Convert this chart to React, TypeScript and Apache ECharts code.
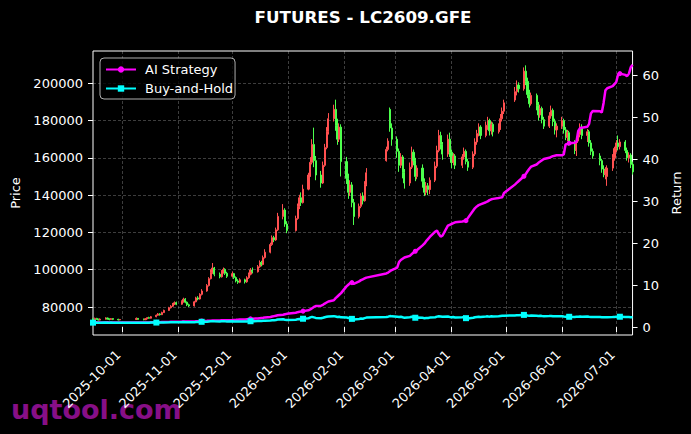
import React, { useEffect, useRef } from "react";
import * as echarts from "echarts";

// Trading days per month
const sepDays = [15, 16, 17, 18, 19, 22, 23, 24, 25, 26, 29, 30];
const octDays = [9, 10, 13, 14, 15, 16, 17, 20, 21, 22, 23, 24, 27, 28, 29, 30, 31];
const novDays = [3, 4, 5, 6, 7, 10, 11, 12, 13, 14, 17, 18, 19, 20, 21, 24, 25, 26, 27, 28];
const decDays = [1, 2, 3, 4, 5, 8, 9, 10, 11, 12, 15, 16, 17, 18, 19, 22, 23, 24, 25, 26, 29, 30, 31];
const janDays = [5, 6, 7, 8, 9, 12, 13, 14, 15, 16, 19, 20, 21, 22, 23, 26, 27, 28, 29, 30];
const febDays = [2, 3, 4, 5, 6, 9, 10, 11, 12, 13, 24, 25, 26, 27];
const marDays = [2, 3, 4, 5, 6, 9, 10, 11, 12, 13, 16, 17, 18, 19, 20, 23, 24, 25, 26, 27, 30, 31];
const aprDays = [1, 2, 3, 7, 8, 9, 10, 13, 14, 15, 16, 17, 20, 21, 22, 23, 24, 27, 28, 29, 30];
const mayDays = [6, 7, 8, 11, 12, 13, 14, 15, 18, 19, 20, 21, 22, 25, 26, 27, 28, 29];
const junDays = [1, 2, 3, 4, 5, 8, 9, 10, 11, 12, 15, 16, 17, 18, 22, 23, 24, 25, 26, 29, 30];
const julDays = [1, 2, 3, 6, 7, 8, 9, 10];

// OHLC in thousands: [open, close, low, high]
const sepOHLC = [
  [73.6, 73.2, 72.8, 74.0], [73.2, 73.9, 73.0, 74.3], [73.9, 73.4, 73.1, 74.2], [73.4, 73.0, 72.7, 73.8],
  [73.0, 73.5, 72.8, 73.9], [73.5, 74.1, 73.3, 74.5], [74.1, 73.6, 73.3, 74.3], [73.6, 73.3, 72.9, 73.9],
  [73.3, 73.8, 73.1, 74.1], [73.8, 73.4, 73.0, 74.0], [73.4, 73.1, 72.8, 73.7], [73.1, 73.3, 72.9, 73.6],
];
const octOHLC = [
  [73.3, 73.9, 73.1, 74.4], [73.9, 73.5, 73.2, 74.1], [73.5, 73.2, 72.9, 73.8], [73.2, 73.7, 73.0, 74.0],
  [73.7, 74.3, 73.5, 74.6], [74.3, 74.0, 73.7, 74.8], [74.0, 74.8, 73.8, 75.2], [74.8, 75.6, 74.5, 76.0],
  [75.6, 76.3, 75.3, 76.8], [76.3, 75.9, 75.4, 76.7], [75.9, 77.0, 75.7, 77.5], [77.0, 78.2, 76.8, 78.6],
  [78.2, 79.6, 78.0, 80.1], [79.6, 80.4, 79.2, 81.0], [80.4, 81.6, 80.0, 82.2], [81.6, 82.3, 81.1, 83.0],
  [82.3, 81.5, 81.0, 82.9],
];
const novOHLC = [
  [81.5, 82.8, 81.2, 83.6], [82.8, 84.2, 82.4, 85.0], [84.2, 82.6, 82.0, 84.8], [82.6, 81.2, 80.5, 83.0],
  [81.2, 80.6, 80.0, 81.8], [80.6, 82.8, 80.3, 83.3], [82.8, 84.9, 82.5, 85.5], [84.9, 84.3, 83.6, 85.8],
  [84.3, 86.8, 84.0, 87.4], [86.8, 88.6, 86.2, 89.6], [88.6, 91.5, 88.2, 92.3], [91.5, 95.2, 91.0, 96.0],
  [95.2, 98.6, 94.8, 100.2], [98.6, 100.9, 97.8, 103.6], [100.9, 97.6, 96.5, 101.5], [97.6, 96.2, 95.4, 98.5],
  [96.2, 98.8, 95.8, 99.8], [98.8, 100.2, 97.9, 101.2], [100.2, 98.1, 97.2, 100.8], [98.1, 96.5, 95.6, 98.9],
];
const decOHLC = [
  [96.5, 97.9, 95.9, 99.0], [97.9, 95.8, 95.0, 98.3], [95.8, 94.0, 93.2, 96.4], [94.0, 93.3, 92.4, 94.9],
  [93.3, 94.6, 92.8, 95.4], [94.6, 93.5, 92.6, 95.2], [93.5, 95.7, 93.0, 96.5], [95.7, 97.6, 95.1, 98.5],
  [97.6, 99.8, 97.0, 100.9], [99.8, 98.9, 98.0, 101.2], [98.9, 101.6, 98.5, 102.5], [101.6, 103.9, 101.0, 105.0],
  [103.9, 102.8, 101.8, 104.8], [102.8, 106.5, 102.4, 107.6], [106.5, 109.4, 106.0, 111.0], [109.4, 113.5, 108.8, 114.5],
  [113.5, 117.2, 112.8, 118.4], [117.2, 116.0, 114.8, 118.2], [116.0, 121.4, 115.5, 122.6], [121.4, 128.6, 120.8, 130.5],
  [128.6, 132.0, 127.0, 135.2], [132.0, 124.5, 123.0, 133.0], [124.5, 121.0, 119.6, 126.0],
];
const janOHLC = [
  [121.0, 127.5, 120.5, 129.0], [127.5, 133.8, 126.8, 135.5], [133.8, 138.6, 132.5, 140.2], [138.6, 136.0, 134.2, 141.5],
  [136.0, 143.2, 135.5, 145.6], [143.2, 150.8, 142.6, 152.0], [150.8, 157.6, 149.8, 160.4], [157.6, 167.2, 156.5, 170.0],
  [167.2, 158.5, 155.0, 176.2], [158.5, 150.8, 148.0, 161.0], [150.8, 146.5, 144.0, 153.0], [146.5, 156.0, 146.0, 158.0],
  [156.0, 165.5, 155.2, 167.5], [165.5, 174.2, 164.6, 176.5], [174.2, 181.0, 172.5, 184.0], [181.0, 186.0, 179.5, 188.5],
  [186.0, 177.5, 174.5, 191.2], [177.5, 170.0, 167.0, 181.0], [170.0, 176.5, 168.5, 178.5], [176.5, 158.0, 150.0, 178.0],
];
const febOHLC = [
  [158.0, 149.0, 146.0, 160.5], [149.0, 141.5, 138.0, 151.5], [141.5, 145.5, 139.5, 148.0], [145.5, 136.0, 133.5, 147.0],
  [136.0, 128.5, 124.0, 138.0], [128.5, 134.0, 127.5, 135.5], [134.0, 139.5, 133.0, 141.0], [139.5, 137.0, 135.0, 141.5],
  [137.0, 145.5, 136.5, 147.5], [145.5, 152.0, 144.8, 154.5], [158.5, 164.5, 158.0, 166.0], [164.5, 169.0, 163.5, 170.5],
  [186.0, 176.0, 174.0, 187.0], [176.0, 170.0, 166.5, 178.5],
];
const marOHLC = [
  [170.0, 163.5, 160.0, 171.5], [163.5, 156.0, 152.5, 165.0], [156.0, 160.5, 154.5, 162.5], [160.5, 152.0, 149.0, 161.5],
  [152.0, 146.5, 143.5, 154.0], [146.5, 155.0, 145.0, 157.5], [155.0, 163.0, 154.0, 166.0], [163.0, 158.5, 156.0, 164.5],
  [158.5, 150.0, 147.5, 160.0], [150.0, 154.5, 148.5, 156.0], [154.5, 147.5, 144.0, 156.5], [147.5, 141.5, 139.5, 149.0],
  [141.5, 145.0, 140.0, 147.0], [145.0, 143.0, 140.0, 146.5], [143.0, 148.0, 140.5, 149.5], [148.0, 155.5, 147.0, 158.0],
  [155.5, 164.0, 154.5, 166.5], [164.0, 172.0, 163.0, 175.0], [172.0, 167.0, 164.5, 174.0], [167.0, 162.0, 159.0, 168.5],
  [162.0, 170.0, 160.5, 172.5], [170.0, 163.0, 160.5, 173.5],
];
const aprOHLC = [
  [163.0, 157.5, 154.5, 164.5], [157.5, 161.0, 156.0, 162.5], [161.0, 156.0, 154.0, 162.0], [156.0, 160.5, 154.5, 162.0],
  [160.5, 163.5, 159.0, 165.5], [163.5, 158.0, 156.5, 164.5], [158.0, 155.0, 153.0, 159.5], [155.0, 162.0, 154.0, 163.5],
  [162.0, 168.5, 161.0, 170.5], [168.5, 173.0, 167.0, 175.0], [173.0, 176.5, 171.5, 178.5], [176.5, 172.0, 170.0, 177.5],
  [172.0, 177.5, 171.0, 179.5], [177.5, 180.0, 175.0, 182.0], [180.0, 174.5, 172.0, 181.0], [174.5, 178.0, 172.5, 179.5],
  [178.0, 174.0, 171.5, 179.0], [174.0, 176.0, 173.0, 178.5], [176.0, 181.0, 175.0, 183.5], [181.0, 185.0, 179.5, 187.0],
  [185.0, 189.5, 183.5, 191.2],
];
const mayOHLC = [
  [191.0, 195.5, 190.0, 198.0], [195.5, 199.0, 193.5, 201.5], [199.0, 197.0, 195.0, 200.5], [197.0, 206.5, 196.0, 208.5],
  [206.5, 201.0, 199.0, 209.6], [201.0, 194.0, 192.0, 203.0], [194.0, 189.0, 187.0, 196.5], [189.0, 193.5, 188.0, 195.0],
  [193.5, 188.0, 185.5, 194.5], [188.0, 183.0, 180.0, 190.0], [183.0, 186.5, 181.5, 188.5], [186.5, 180.5, 178.5, 187.5],
  [180.5, 177.0, 175.5, 182.0], [177.0, 182.5, 176.0, 184.5], [182.5, 185.5, 181.0, 188.0], [185.5, 179.5, 177.0, 186.5],
  [179.5, 175.0, 172.5, 181.0], [175.0, 177.0, 171.0, 178.5],
];
const junOHLC = [
  [177.0, 180.0, 175.5, 182.0], [180.0, 175.0, 173.0, 181.0], [175.0, 171.0, 169.5, 176.5], [171.0, 173.5, 169.0, 175.0],
  [173.5, 168.5, 166.5, 174.5], [168.5, 164.0, 162.0, 169.5], [164.0, 169.0, 161.0, 171.0], [169.0, 172.5, 168.0, 174.0],
  [172.5, 176.5, 171.0, 178.5], [176.5, 172.0, 170.0, 178.0], [172.0, 174.0, 168.5, 175.5], [174.0, 168.0, 166.0, 175.0],
  [168.0, 163.5, 161.5, 169.5], [163.5, 161.0, 159.5, 165.0], [161.0, 158.5, 156.0, 162.5], [158.5, 154.0, 152.0, 159.5],
  [154.0, 151.0, 149.6, 156.0], [151.0, 153.5, 148.5, 155.0], [150.0, 154.5, 145.0, 156.0], [154.5, 160.0, 153.0, 162.0],
  [160.0, 165.0, 158.5, 166.0],
];
const julOHLC = [
  [165.0, 168.0, 163.0, 169.5], [168.0, 166.0, 164.0, 172.0], [166.0, 168.5, 164.5, 170.0], [168.5, 164.0, 162.5, 169.5],
  [164.0, 160.0, 158.5, 165.5], [160.0, 161.5, 157.5, 163.0], [161.5, 156.5, 154.5, 162.5], [156.5, 152.5, 151.0, 158.0],
];

// AI Strategy return
const sepAI = [1.1, 1.1, 1.12, 1.1, 1.08, 1.1, 1.12, 1.1, 1.08, 1.1, 1.1, 1.1];
const octAI = [1.1, 1.1, 1.08, 1.08, 1.1, 1.1, 1.12, 1.12, 1.15, 1.15, 1.18, 1.2, 1.22, 1.25, 1.25, 1.28, 1.28];
const novAI = [1.3, 1.32, 1.3, 1.32, 1.35, 1.35, 1.38, 1.4, 1.42, 1.45, 1.48, 1.5, 1.52, 1.55, 1.55, 1.58, 1.6, 1.62, 1.62, 1.65];
const decAI = [1.68, 1.7, 1.72, 1.75, 1.78, 1.8, 1.85, 1.9, 1.95, 2.0, 2.05, 2.1, 2.15, 2.2, 2.3, 2.4, 2.5, 2.6, 2.7, 2.8, 2.95, 3.05, 3.15];
const janAI = [3.4, 3.55, 3.65, 3.7, 3.8, 4.0, 4.2, 4.5, 4.8, 5.0, 5.1, 5.3, 5.6, 5.85, 6.1, 6.4, 6.9, 7.3, 7.7, 8.1];
const febAI = [9.7, 10.1, 10.5, 10.6, 10.3, 10.9, 11.2, 11.4, 11.6, 11.8, 12.8, 13.0, 13.3, 13.6];
const marAI = [14.2, 15.5, 16.0, 16.3, 16.6, 17.0, 17.4, 17.8, 18.1, 18.4, 19.5, 19.9, 20.5, 21.0, 21.5, 22.8, 23.0, 22.2, 21.6, 21.8, 24.2, 24.4];
const aprAI = [24.6, 24.8, 25.0, 25.2, 25.3, 25.4, 26.0, 27.8, 28.4, 28.8, 29.1, 29.3, 29.8, 30.0, 30.3, 30.5, 30.6, 30.8, 30.9, 31.0, 32.0];
const mayAI = [34.0, 34.4, 34.8, 36.0, 36.5, 37.2, 37.8, 38.3, 38.8, 39.2, 39.5, 39.8, 40.1, 40.4, 40.6, 40.8, 40.9, 41.0];
const junAI = [41.0, 41.2, 43.6, 43.7, 43.9, 44.0, 44.2, 46.8, 47.5, 47.6, 47.8, 48.5, 51.0, 51.6, 51.5, 51.2, 53.5, 56.5, 57.0, 57.5, 58.0];
const julAI = [58.5, 60.3, 60.5, 60.2, 59.9, 60.5, 62.0, 62.6];

// Buy-and-Hold return
const sepBH = [1.05, 1.06, 1.05, 1.04, 1.05, 1.06, 1.05, 1.05, 1.06, 1.05, 1.04, 1.05];
const octBH = [1.05, 1.05, 1.04, 1.04, 1.05, 1.05, 1.06, 1.07, 1.08, 1.07, 1.09, 1.1, 1.12, 1.13, 1.15, 1.16, 1.15];
const novBH = [1.16, 1.18, 1.16, 1.14, 1.13, 1.16, 1.19, 1.18, 1.22, 1.25, 1.29, 1.34, 1.38, 1.4, 1.36, 1.34, 1.38, 1.4, 1.37, 1.35];
const decBH = [1.36, 1.33, 1.31, 1.3, 1.32, 1.31, 1.34, 1.36, 1.39, 1.38, 1.42, 1.45, 1.43, 1.48, 1.52, 1.57, 1.62, 1.6, 1.68, 1.78, 1.84, 1.73, 1.69];
const janBH = [1.76, 1.85, 1.92, 1.88, 1.98, 2.08, 2.3, 2.42, 2.3, 2.18, 2.12, 2.22, 2.34, 2.45, 2.54, 2.6, 2.5, 2.4, 2.46, 2.32];
const febBH = [2.3, 2.15, 2.2, 1.95, 1.82, 1.92, 2.02, 1.98, 2.12, 2.25, 2.4, 2.48, 2.62, 2.55];
const marBH = [2.48, 2.38, 2.44, 2.32, 2.24, 2.34, 2.45, 2.38, 2.22, 2.28, 2.2, 2.12, 2.18, 2.15, 2.25, 2.35, 2.48, 2.58, 2.52, 2.45, 2.52, 2.42];
const aprBH = [2.34, 2.38, 2.3, 2.36, 2.4, 2.12, 2.05, 2.22, 2.35, 2.42, 2.48, 2.42, 2.5, 2.55, 2.48, 2.58, 2.54, 2.56, 2.62, 2.68, 2.72];
const mayBH = [2.78, 2.82, 2.8, 2.9, 2.86, 2.78, 2.72, 2.76, 2.7, 2.64, 2.68, 2.62, 2.58, 2.62, 2.66, 2.6, 2.55, 2.57];
const junBH = [2.58, 2.52, 2.48, 2.5, 2.45, 2.4, 2.44, 2.48, 2.52, 2.47, 2.5, 2.44, 2.4, 2.37, 2.4, 2.36, 2.33, 2.36, 2.32, 2.38, 2.42];
const julBH = [2.45, 2.43, 2.46, 2.42, 2.38, 2.4, 2.36, 2.34];

const priceTicks = [80000, 100000, 120000, 140000, 160000, 180000, 200000];
const returnTicks = [0, 10, 20, 30, 40, 50, 60];
const monthTickLabels = [
  "2025-10-01", "2025-11-01", "2025-12-01", "2026-01-01", "2026-02-01",
  "2026-03-01", "2026-04-01", "2026-05-01", "2026-06-01", "2026-07-01",
];

const months: [number, number, number[], number[][], number[], number[]][] = [
  [2025, 9, sepDays, sepOHLC, sepAI, sepBH],
  [2025, 10, octDays, octOHLC, octAI, octBH],
  [2025, 11, novDays, novOHLC, novAI, novBH],
  [2025, 12, decDays, decOHLC, decAI, decBH],
  [2026, 1, janDays, janOHLC, janAI, janBH],
  [2026, 2, febDays, febOHLC, febAI, febBH],
  [2026, 3, marDays, marOHLC, marAI, marBH],
  [2026, 4, aprDays, aprOHLC, aprAI, aprBH],
  [2026, 5, mayDays, mayOHLC, mayAI, mayBH],
  [2026, 6, junDays, junOHLC, junAI, junBH],
  [2026, 7, julDays, julOHLC, julAI, julBH],
];

const ts = (y: number, m: number, d: number) => new Date(y, m - 1, d).getTime();
const parseDate = (s: string) => {
  const [y, m, d] = s.split("-").map(Number);
  return ts(y, m, d);
};
const fmtDate = (v: number) => {
  const d = new Date(v);
  return `${d.getFullYear()}-${String(d.getMonth() + 1).padStart(2, "0")}-${String(d.getDate()).padStart(2, "0")}`;
};

const FONT = "DejaVu Sans";

export default function App() {
  const ref = useRef<HTMLDivElement>(null);

  useEffect(() => {
    if (!ref.current) return;
    const chart = echarts.init(ref.current, undefined, { renderer: "svg" });

    const candleData: number[][] = [];
    const aiData: number[][] = [];
    const bhData: number[][] = [];
    months.forEach(([y, m, days, ohlc, ai, bh]) => {
      days.forEach((d, i) => {
        const t = ts(y, m, d);
        const [o, c, l, h] = ohlc[i];
        candleData.push([t, o * 1000, c * 1000, l * 1000, h * 1000]);
        aiData.push([t, ai[i]]);
        bhData.push([t, bh[i]]);
      });
    });
    const monthTicks = monthTickLabels.map(parseDate);
    const MARK_EVERY = 19;

    chart.setOption({
      animation: false,
      backgroundColor: "#000",
      textStyle: { fontFamily: FONT },
      title: {
        text: "FUTURES - LC2609.GFE",
        left: 363,
        top: 8,
        textAlign: "center",
        padding: 0,
        textStyle: { color: "#fff", fontSize: 16.7, fontWeight: "bold", fontFamily: FONT },
      },
      legend: {
        data: ["AI Strategy", "Buy-and-Hold"],
        orient: "vertical",
        left: 100,
        top: 58,
        padding: [5, 2, 4, 5],
        itemGap: 6,
        itemWidth: 30,
        itemHeight: 8,
        borderColor: "rgba(204,204,204,0.85)",
        borderWidth: 1,
        borderRadius: 4,
        backgroundColor: "rgba(0,0,0,0.8)",
        textStyle: { color: "#fff", fontSize: 13, fontFamily: FONT, padding: [0, 0, 0, 4] },
      },
      grid: {
        left: 93,
        right: 57,
        top: 51,
        bottom: 99,
        show: true,
        borderColor: "#fff",
        borderWidth: 1,
        backgroundColor: "transparent",
      },
      xAxis: {
        type: "value",
        min: ts(2025, 9, 15),
        max: ts(2026, 7, 10),
        axisLine: { show: false },
        axisTick: {
          show: true,
          customValues: monthTicks,
          length: 5,
          lineStyle: { color: "#fff", width: 1 },
        },
        axisLabel: {
          customValues: monthTicks,
          rotate: 45,
          margin: 14,
          padding: [0, 5, 0, 0],
          color: "#fff",
          fontSize: 13,
          fontFamily: FONT,
          formatter: (v: number) => fmtDate(v),
        },
        splitLine: {
          show: true,
          lineStyle: { color: "rgba(255,255,255,0.3)", type: [3, 2], width: 0.8 },
        },
      },
      yAxis: [
        {
          type: "value",
          position: "left",
          min: 65000,
          max: 217300,
          name: "Price",
          nameLocation: "middle",
          nameGap: 67,
          nameTextStyle: { color: "#fff", fontSize: 13, fontFamily: FONT },
          axisLine: { show: false },
          axisTick: { show: true, customValues: priceTicks, length: 5, lineStyle: { color: "#fff" } },
          axisLabel: {
            customValues: priceTicks,
            color: "#fff",
            fontSize: 13,
            fontFamily: FONT,
            margin: 10,
            formatter: (v: number) => String(v),
          },
          splitLine: {
            show: true,
            lineStyle: { color: "rgba(255,255,255,0.3)", type: [3, 2], width: 0.8 },
          },
        },
        {
          type: "value",
          position: "right",
          min: -1.9,
          max: 65.9,
          name: "Return",
          nameLocation: "middle",
          nameGap: 30,
          nameTextStyle: { color: "#fff", fontSize: 13, fontFamily: FONT },
          axisLine: { show: false },
          axisTick: { show: true, customValues: returnTicks, length: 5, lineStyle: { color: "#fff" } },
          axisLabel: {
            customValues: returnTicks,
            color: "#fff",
            fontSize: 13,
            fontFamily: FONT,
            margin: 10,
            formatter: (v: number) => String(v),
          },
          splitLine: { show: false },
        },
      ],
      series: [
        {
          name: "Price",
          type: "candlestick",
          xAxisIndex: 0,
          yAxisIndex: 0,
          data: candleData,
          barWidth: 1.6,
          itemStyle: {
            color: "#ff5050",
            color0: "#4dff4d",
            borderColor: "#ff5050",
            borderColor0: "#4dff4d",
            borderWidth: 1,
          },
          z: 2,
        },
        {
          name: "AI Strategy",
          type: "line",
          yAxisIndex: 1,
          data: aiData,
          symbol: "circle",
          showSymbol: true,
          showAllSymbol: true,
          symbolSize: (_v: any, p: any) => (p.dataIndex % MARK_EVERY === 0 ? 5 : 0),
          lineStyle: { color: "#ff00ff", width: 2.5 },
          itemStyle: { color: "#ff00ff" },
          z: 4,
        },
        {
          name: "Buy-and-Hold",
          type: "line",
          yAxisIndex: 1,
          data: bhData,
          symbol: "rect",
          showSymbol: true,
          showAllSymbol: true,
          symbolSize: (_v: any, p: any) => (p.dataIndex % MARK_EVERY === 0 ? 6 : 0),
          lineStyle: { color: "#00ffff", width: 2.5 },
          itemStyle: { color: "#00ffff" },
          z: 5,
        },
      ],
      graphic: [
        {
          type: "text",
          x: 11,
          y: 409,
          z: -1,
          style: {
            text: "uqtool.com",
            font: `bold 27px "${FONT}"`,
            fill: "rgb(135,15,135)",
            verticalAlign: "middle",
            textVerticalAlign: "middle",
          },
        },
      ],
    });

    return () => chart.dispose();
  }, []);

  return (
    <div
      ref={ref}
      style={{ position: "absolute", left: 0, top: 0, width: 691, height: 434 }}
    />
  );
}
